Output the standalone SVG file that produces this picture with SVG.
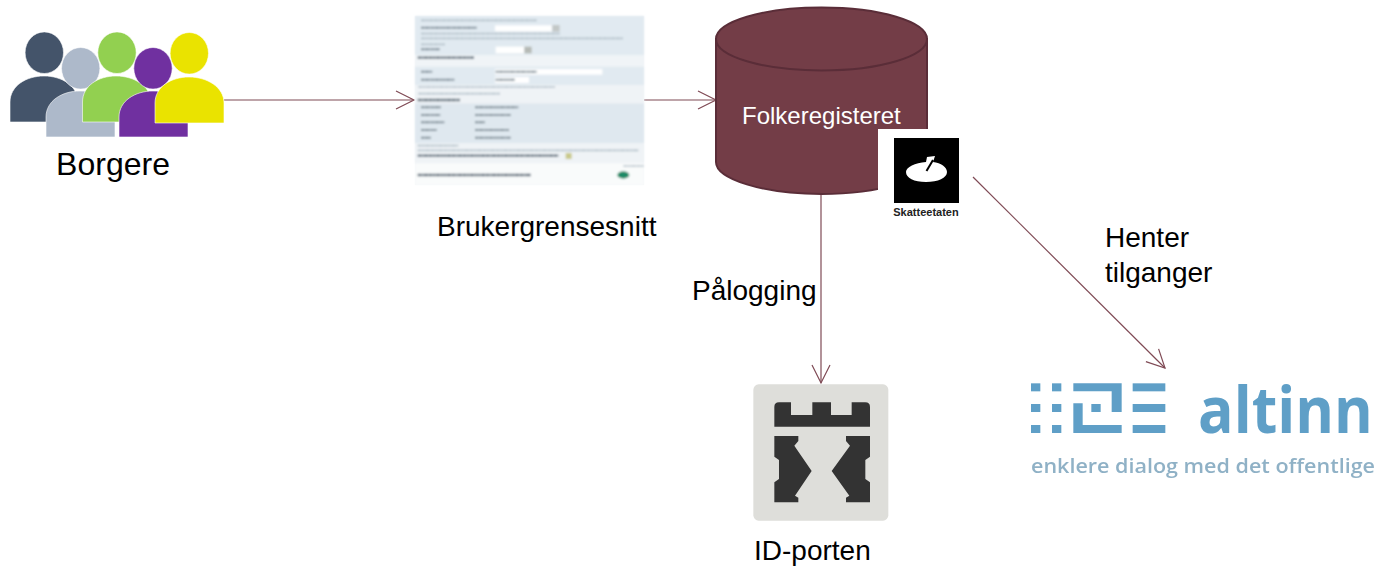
<svg xmlns="http://www.w3.org/2000/svg" width="1380" height="566" viewBox="0 0 1380 566">
<style>
text{font-family:"Liberation Sans",Arial,sans-serif}
.lbl{font-size:28px;fill:#000}
.conn{fill:none;stroke:#7f4a55;stroke-width:1.2;marker-end:url(#arrow)}
.tx{fill:none;stroke:#7d8c96;stroke-width:6;stroke-dasharray:9 1 14 1 6 1}
.tl{fill:none;stroke:#b4c1ca;stroke-width:5;stroke-dasharray:12 1 8 1 16 1}
.dk{fill:none;stroke:#5d6c79;stroke-width:7;stroke-dasharray:10 1 7 1 14 1}
.lg{fill:#5f9fc7}
</style>
<defs>
<marker id="arrow" markerUnits="userSpaceOnUse" markerWidth="22" markerHeight="22" refX="19" refY="10" orient="auto">
<path d="M1 1 L19 10 L1 19" fill="none" stroke="#7f4a55" stroke-width="1.2"/>
</marker>
<filter id="b1" x="-5%" y="-5%" width="110%" height="110%"><feGaussianBlur stdDeviation="2.400"/></filter>
<filter id="b2" x="-5%" y="-10%" width="110%" height="120%"><feGaussianBlur stdDeviation="0.5"/></filter>
</defs>
<g id="connectors">
<path class="conn" d="M224 100H414"/>
<path class="conn" d="M643 100H716"/>
<path class="conn" d="M821 194V383"/>
<path class="conn" d="M973 177L1165 368"/>
</g>
<g id="borgere">
<g stroke="#fff" stroke-width=".6">
<ellipse cx="44.3" cy="52.7" rx="19.2" ry="20.8" fill="#44546a"/>
<path d="M10 122V102C10 86 26 76 44 76S78 86 78 102V122Z" fill="#44546a"/>
<ellipse cx="80.7" cy="68.3" rx="19.2" ry="20.8" fill="#adb9ca"/>
<path d="M46 137V117C46 101 62 91 80 91S115 101 115 117V137Z" fill="#adb9ca"/>
<ellipse cx="117" cy="52.7" rx="19.2" ry="20.8" fill="#92d050"/>
<path d="M82.500 122V102C82.500 86 98 76 116 76S151 86 151 102V122Z" fill="#92d050"/>
<ellipse cx="153" cy="68.3" rx="19.2" ry="20.8" fill="#7030a0"/>
<path d="M119 137V117C119 101 135 91 153 91S188 101 188 117V137Z" fill="#7030a0"/>
<ellipse cx="189.300" cy="53.3" rx="19.2" ry="20.8" fill="#eae300"/>
<path d="M155 123V103C155 87 171 77 189 77S224 87 224 103V123Z" fill="#eae300"/>
</g>
<text x="113" y="175" font-size="32" text-anchor="middle" fill="#000">Borgere</text>
</g>
<g id="brukergrensesnitt">
<g transform="translate(405 5) scale(.33333)">
<rect x="30" y="33" width="687" height="507" fill="#f6f8fa"/>
<g filter="url(#b1)">
<rect x="30" y="33" width="687" height="117" fill="#e1eaf1"/>
<rect x="30" y="150" width="687" height="35" fill="#f0f4f7"/>
<rect x="30" y="185" width="687" height="55" fill="#e1eaf1"/>
<rect x="30" y="240" width="687" height="55" fill="#eff3f6"/>
<rect x="30" y="295" width="687" height="120" fill="#dfe8ef"/>
<rect x="30" y="415" width="687" height="60" fill="#eff3f6"/>
<rect x="30" y="475" width="687" height="65" fill="#f9fbfb"/>
<rect x="270" y="61" width="170" height="18" fill="#fff"/>
<rect x="442" y="60" width="22" height="20" fill="#c2c7c6"/>
<rect x="272" y="125" width="85" height="20" fill="#fff"/>
<rect x="358" y="125" width="22" height="20" fill="#b5b9b5"/>
<rect x="270" y="192" width="322" height="17" fill="#fff"/>
<rect x="270" y="216" width="102" height="18" fill="#fff"/>
<rect x="482" y="444" width="18" height="18" fill="#c9c98a"/>
<ellipse cx="655" cy="510" rx="18" ry="11" fill="#1f8a66"/>
<path class="tl" d="M48 46H395M48 86H465M48 100H655M48 118H120M40 246H450M40 266H285M38 422H160M38 436H700"/>
<path class="tx" d="M48 68H215M48 133H105M48 200H82M48 224H148M272 200H395M272 224H330M48 307H108M48 330H106M48 352H118M48 375H95M48 398H78M210 307H340M210 330H318M210 352H240M210 375H312M210 398H318"/>
<path class="dk" d="M38 158H208M38 285H165M38 452H460M38 510H378"/>
<path class="tl" d="M655 483H717"/>
</g>
</g>
<text class="lbl" x="437" y="236">Brukergrensesnitt</text>
</g>
<g id="folkeregisteret">
<path d="M716 39V162C716 179 763 194 821.500 194S927 179 927 162V39Z" fill="#733d47" stroke="#5a2d38" stroke-width="2"/>
<ellipse cx="821.500" cy="39" rx="105.500" ry="31.500" fill="#733d47" stroke="#5a2d38" stroke-width="2"/>
<text x="742" y="124" font-size="24" fill="#fff">Folkeregisteret</text>
</g>
<g id="skatteetaten">
<rect x="878" y="129" width="84" height="95" fill="#fff"/>
<rect x="894" y="138" width="65" height="65" fill="#000"/>
<path d="M926 162L927 157L935 156L933 162C941 163 947 167 947 172C947 178 938 182 926 182C914 182 906 178 906 172C906 167 915 163 926 162Z" fill="#fff"/>
<path d="M926.500 171L933 160" stroke="#000" stroke-width="2"/>
<text x="926" y="216" font-size="11" font-weight="bold" text-anchor="middle" fill="#222">Skatteetaten</text>
</g>
<g id="id-porten">
<g transform="translate(745 375) scale(.33333)">
<rect x="25" y="28" width="405" height="409" rx="16" fill="#dededa"/>
<g fill="#333">
<path d="M88 155V96Q88 82 102 82H138V120H202V82H258V120H320V82H361Q375 82 375 96V155Z"/>
<path d="M88 183H160V198L148 212L200 288L150 362L160 368V382H88V322L102 312V255L88 245Z"/>
<path d="M375 183H303V198L315 212L260 288L313 362L303 368V382H375V322L361 312V255L375 245Z"/>
</g>
</g>
<text class="lbl" x="754" y="560">ID-porten</text>
</g>
<g id="altinn">
<g filter="url(#b2)">
<g transform="translate(1020 370) scale(.33333)">
<g class="lg">
<rect x="33" y="40" width="28" height="24"/><rect x="96" y="40" width="28" height="24"/>
<rect x="33" y="102" width="28" height="24"/><rect x="96" y="102" width="28" height="24"/>
<rect x="33" y="165" width="28" height="24"/><rect x="96" y="165" width="28" height="24"/>
<path d="M160 40H305V126H275V64H160Z"/>
<path d="M160 100H188V165H305V189H160Z"/>
<rect x="214" y="102" width="28" height="24"/>
<rect x="338" y="40" width="98" height="24"/><rect x="338" y="102" width="98" height="24"/><rect x="338" y="165" width="98" height="24"/>
</g>
</g>
<text transform="translate(1198 433) scale(1 1.1)" font-size="59" font-weight="700" fill="#5f9fc7" style="font-family:'Open Sans',sans-serif">altinn</text>
<text x="1031" y="473" font-size="19" font-weight="600" fill="#8fb1c6" style="font-family:'Open Sans',sans-serif" textLength="344" lengthAdjust="spacingAndGlyphs">enklere dialog med det offentlige</text>
</g>
</g>
<g id="labels">
<text class="lbl" x="692" y="300">Pålogging</text>
<text class="lbl" x="1105" y="247">Henter</text>
<text class="lbl" x="1105" y="282">tilganger</text>
</g>
</svg>
